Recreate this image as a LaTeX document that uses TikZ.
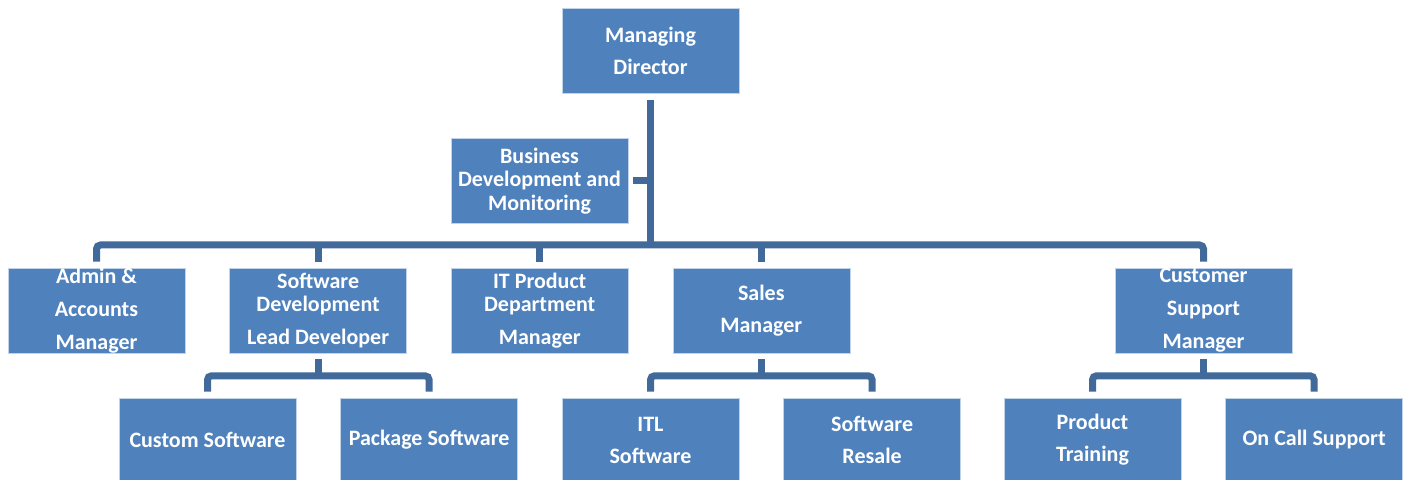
\documentclass[tikz,border=0pt]{standalone}
\usepackage{fontspec}
\setmainfont{Carlito}
\usetikzlibrary{positioning}

\definecolor{boxblue}{HTML}{4F81BD}
\definecolor{linkblue}{HTML}{41699A}

\begin{document}
\begin{tikzpicture}[
      x=0.5pt, y=-0.5pt,
      box/.style={rectangle, fill=boxblue, draw=boxblue!35!white,
                  line width=0.3pt, text=white, align=center,
                  font=\bfseries\fontsize{11}{11.75}\selectfont,
                  inner xsep=2pt, inner ysep=0pt},
      upper/.style={minimum width=88.5pt, minimum height=42.5pt},
      lower/.style={minimum width=88.5pt, minimum height=42pt},
      link/.style={draw=linkblue, line width=3.5pt, rounded corners=2pt}
    ]
      \useasboundingbox (0, 0) rectangle (1408, 480);

      \node[box, upper] (director) at (650.5, 51)
        {Managing\\[4.25pt]Director};
      \node[box, upper] (business) at (539.5, 181)
        {Business\\Development and\\Monitoring};

      \node[box, upper] (admin) at (96.5, 310.5)
        {Admin \&\\[4.75pt]Accounts\\[4.75pt]Manager};
      \node[box, upper, right=22pt of admin]
        (software) {Software\\Development\\[4.75pt]Lead Developer};
      \node[box, upper, right=22pt of software]
        (itproduct) {IT Product\\Department\\[4.75pt]Manager};
      \node[box, upper, right=22pt of itproduct]
        (sales) {Sales\\[4.25pt]Manager};
      \node[box, upper] (customer) at (1203.5, 310.5)
        {Customer\\[4.75pt]Support\\[4.75pt]Manager};

      \node[box, lower] (custom) at (207.5, 440)
        {Custom Software};
      \node[box, lower, right=22pt of custom]
        (package) {Package Software};
      \node[box, lower] (itl) at (650.5, 440)
        {ITL\\[4.25pt]Software};
      \node[box, lower, right=22pt of itl]
        (resale) {Software\\[4.25pt]Resale};
      \node[box, lower] (training) at (1092.5, 440)
        {Product\\[4.25pt]Training};
      \node[box, lower, right=22pt of training]
        (oncall) {On Call Support};

      \coordinate (bus) at (650, 245);
      \coordinate (swbus) at ([yshift=-11.25pt]software.south);
      \coordinate (salesbus) at ([yshift=-11.25pt]sales.south);
      \coordinate (custbus) at ([yshift=-11.25pt]customer.south);

      \draw[link] ([yshift=-3pt]director.south) -- (director.south |- bus);
      \draw[link] ([xshift=2.5pt]business.east) -- (business.east -| bus);

      \draw[link] ([yshift=3pt]admin.north) |- (bus)
        -| ([yshift=3pt]customer.north);
      \draw[link] (software.north |- bus) -- ([yshift=3pt]software.north);
      \draw[link] (itproduct.north |- bus) -- ([yshift=3pt]itproduct.north);
      \draw[link] (sales.north |- bus) -- ([yshift=3pt]sales.north);

      \draw[link] ([yshift=-3pt]software.south) -- (swbus);
      \draw[link] ([yshift=3pt]custom.north) |- (swbus)
        -| ([yshift=3pt]package.north);

      \draw[link] ([yshift=-3pt]sales.south) -- (salesbus);
      \draw[link] ([yshift=3pt]itl.north) |- (salesbus)
        -| ([yshift=3pt]resale.north);

      \draw[link] ([yshift=-3pt]customer.south) -- (custbus);
      \draw[link] ([yshift=3pt]training.north) |- (custbus)
        -| ([yshift=3pt]oncall.north);
    \end{tikzpicture}
\end{document}
